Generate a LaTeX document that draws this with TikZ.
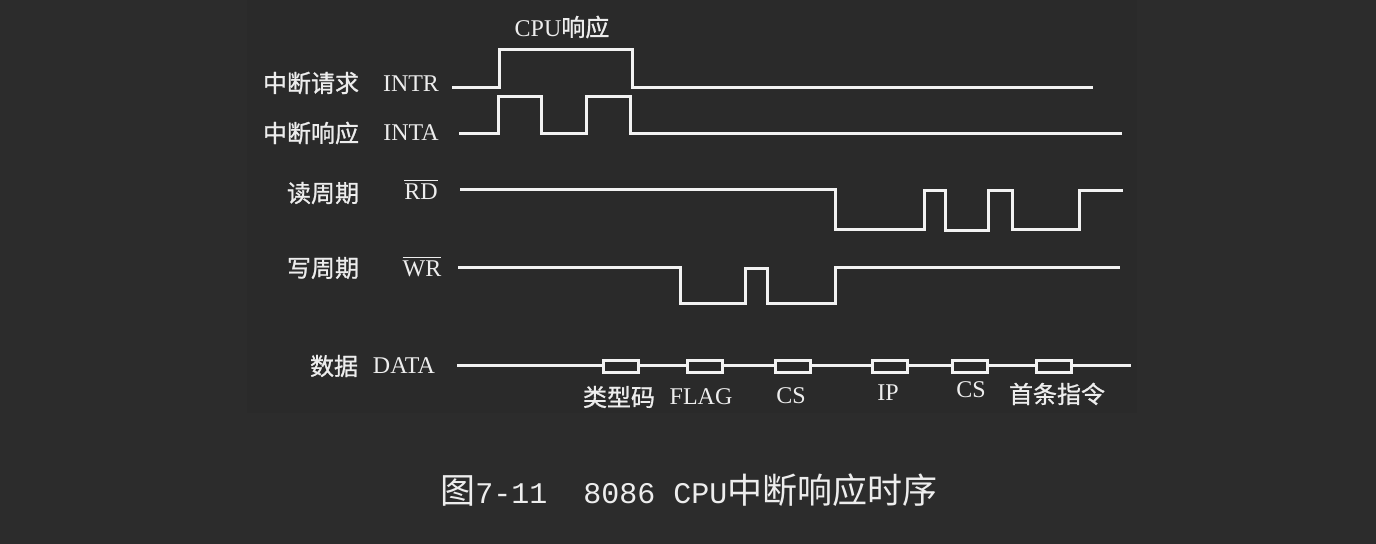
\documentclass[tikz,border=0pt]{standalone}
\RequirePackage{amsmath}
\RequirePackage{fontspec}
\RequirePackage{tikz}
\RequirePackage{tkz-euclide}
\usetikzlibrary{calc}

\setmainfont{Liberation Serif}
\newfontfamily\cjk[FakeBold=1]{Noto Sans CJK SC}
\newfontfamily\cjkcap{Noto Sans CJK SC}
\newfontfamily\capmono{Liberation Mono}

\definecolor{bgcol}{HTML}{2C2C2C}
\definecolor{panel}{HTML}{2A2A2A}
\definecolor{wavecol}{HTML}{F2F2F2}
\definecolor{txtcol}{HTML}{EDEDED}

\begin{document}
\begin{tikzpicture}[x=0.5pt,y=-0.5pt,
    wave/.style={draw=wavecol,line width=1.5pt,line join=miter},
    lbl/.style={text=txtcol,inner sep=0pt,font=\fontsize{12}{14}\selectfont},
    cjklbl/.style={text=txtcol,inner sep=0pt,font=\cjk\fontsize{12}{14}\selectfont},
    slot/.style={draw=wavecol,line width=1.5pt,fill=panel,minimum width=17.5pt,minimum height=6pt,inner sep=0pt}]
                \fill[bgcol] (0,0) rectangle (1376,544);
                \fill[panel] (247,0) rectangle (1137,413);

                \tkzDefPoint(452,88){intrA}
                \tkzDefPoint(1093,88){intrB}
                \tkzDefPoint(459,134){intaA}
                \tkzDefPoint(1122,134){intaB}
                \tkzDefPoint(460,190){rdA}
                \tkzDefPoint(1123,191){rdB}
                \tkzDefPoint(458,268){wrA}
                \tkzDefPoint(1120,268){wrB}
                \tkzDefPoint(457,366){dataA}
                \tkzDefPoint(1131,366){dataB}

                \draw[wave] (intrA) -- (499,88) -- (499,50) -- (632,50) -- (632,88) -- (intrB);
                \draw[wave] (intaA) -- (498,134) -- (498,97) -- (541,97) -- (541,134) -- (586,134)
                    -- (586,97) -- (630,97) -- (630,134) -- (intaB);
                \draw[wave] (rdA) -- (835,190) -- (835,230) -- (924,230) -- (924,191) -- (945,191)
                    -- (945,231) -- (988,231) -- (988,191) -- (1012,191) -- (1012,230) -- (1079,230)
                    -- (1079,191) -- (rdB);
                \draw[wave] (wrA) -- (680,268) -- (680,304) -- (745,304) -- (745,269) -- (767,269)
                    -- (767,304) -- (835,304) -- (835,268) -- (wrB);
                \draw[wave] (dataA) -- (dataB);

                \node[slot] (typ) at (621,366.5) {};
                \node[slot] (flg) at (705,366.5) {};
                \node[slot] (csA) at (793,366.5) {};
                \node[slot] (ipv) at (890,366.5) {};
                \node[slot] (csB) at (970,366.5) {};
                \node[slot] (ins) at (1054,366.5) {};

                \node[lbl] (cpuresp) at (562,27) {CPU{\cjk 响应}};

                \node[cjklbl] (intrcn) at (311,83) {中断请求};
                \node[lbl] (intr) at (411,84) {INTR};
                \node[cjklbl] (intacn) at (311,133) {中断响应};
                \node[lbl] (inta) at (411,133) {INTA};
                \node[cjklbl] (rdcn) at (323,193) {读周期};
                \node[lbl] (rd) at (421,189) {$\overline{\mbox{RD}}$};
                \node[cjklbl] (wrcn) at (323,268) {写周期};
                \node[lbl] (wr) at (422,266) {$\overline{\mbox{WR}}$};
                \node[cjklbl] (datacn) at (334,366) {数据};
                \node[lbl] (data) at (404,366) {DATA};

                \node[cjklbl] (typlbl) at (619,397) {类型码};
                \node[lbl] (flglbl) at (701,397) {FLAG};
                \node[lbl] (csAlbl) at (791,396) {CS};
                \node[lbl] (iplbl) at (888,393) {IP};
                \node[lbl] (csBlbl) at (971,390) {CS};
                \node[cjklbl] (inslbl) at (1057,394) {首条指令};

                \node[text=txtcol,inner sep=0pt] (caption) at (689,490)
                    {{\cjkcap\fontsize{17.5}{20}\selectfont 图}{\capmono\fontsize{15}{20}\selectfont 7-11\ \ 8086 CPU}{\cjkcap\fontsize{17.5}{20}\selectfont 中断响应时序}};
            \end{tikzpicture}
\end{document}
